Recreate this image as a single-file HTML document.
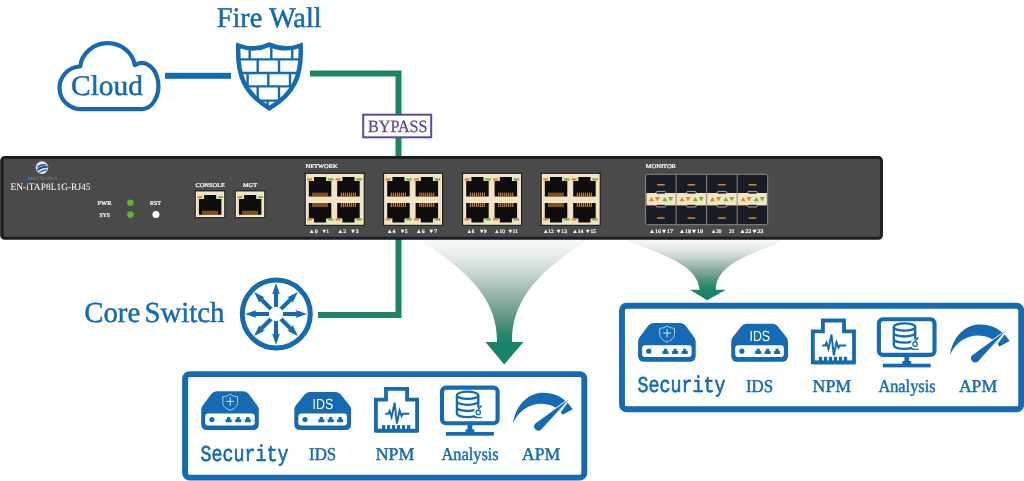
<!DOCTYPE html>
<html lang="en"><head><meta charset="utf-8"><title>Network TAP topology</title>
<style>
html,body{margin:0;padding:0;background:#fff;}
body{width:1024px;height:481px;overflow:hidden;font-family:"Liberation Serif",serif;}
svg{display:block;will-change:transform;text-rendering:geometricPrecision;}
</style></head><body>
<svg width="1024" height="481" viewBox="0 0 1024 481">
<rect x="165" y="72.8" width="66" height="6" fill="#146bb4"/>
<path d="M310 73.5 H398.5 V157" fill="none" stroke="#1a8468" stroke-width="6"/>
<path d="M398.5 238 V315 H318" fill="none" stroke="#1a8468" stroke-width="6"/>
<defs>
<linearGradient id="g1" x1="0" y1="240" x2="0" y2="364" gradientUnits="userSpaceOnUse"><stop offset="0" stop-color="#f8faf9"/><stop offset="0.06" stop-color="#f0f4f2"/><stop offset="0.17" stop-color="#dde6e2"/><stop offset="0.29" stop-color="#c3d3cc"/><stop offset="0.41" stop-color="#9fbbaf"/><stop offset="0.54" stop-color="#7aa493"/><stop offset="0.66" stop-color="#4f937d"/><stop offset="0.76" stop-color="#2a886c"/><stop offset="0.83" stop-color="#1a8468"/><stop offset="1" stop-color="#1a8468"/></linearGradient>
<linearGradient id="g2" x1="0" y1="240" x2="0" y2="300.6" gradientUnits="userSpaceOnUse"><stop offset="0" stop-color="#f8faf9"/><stop offset="0.06" stop-color="#f0f4f2"/><stop offset="0.17" stop-color="#dde6e2"/><stop offset="0.29" stop-color="#c3d3cc"/><stop offset="0.41" stop-color="#9fbbaf"/><stop offset="0.54" stop-color="#7aa493"/><stop offset="0.66" stop-color="#4f937d"/><stop offset="0.76" stop-color="#2a886c"/><stop offset="0.83" stop-color="#1a8468"/><stop offset="1" stop-color="#1a8468"/></linearGradient>
</defs>
<path d="M419 239.5 H588 C541.5 270 511.5 298 512 342 H523.5 L504.2 364.5 L485.5 342 H497 C497.8 298 466 270 419 239.5 Z" fill="url(#g1)"/>
<path d="M623.5 239.5 H787 C751 254 716 264 715.8 289.8 H725.8 L707.2 300.3 L690 289.8 H699.7 C697 263 659 254 623.5 239.5 Z" fill="url(#g2)"/>
<rect x="1.6" y="157.55" width="879.9" height="80.7" rx="3" fill="#4a4a4a" stroke="#1d1e22" stroke-width="2.9"/>
<rect x="1.5" y="159" width="2.2" height="77.8" fill="#1d1e22"/>
<circle cx="42" cy="167.6" r="6.3" fill="#dfe8f3"/>
<g transform="rotate(-18 42 167.6)" fill="none" stroke="#1f4c9e" stroke-linecap="round">
<path d="M38.3 165.6 Q42 164.2 45.8 165.8" stroke-width="1.5"/>
<path d="M37.2 168.3 Q42 166.6 47 168.4" stroke-width="2"/>
<path d="M38.4 171.4 Q42 170 45.8 171.3" stroke-width="1.4" stroke="#2a6d8f"/>
</g>
<text x="27.9" y="179.7" font-size="4.6" font-family='"Liberation Sans", sans-serif' textLength="29.4" lengthAdjust="spacingAndGlyphs"><tspan fill="#3f86c9" font-weight="bold">EN</tspan><tspan fill="#737a83">NETWORKS</tspan></text>
<text x="10.5" y="189.8" font-size="9.8" fill="#fff" font-family='"Liberation Serif", serif' text-anchor="start" textLength="80" lengthAdjust="spacingAndGlyphs">EN-iTAP8L1G-RJ45</text>
<text x="97.5" y="205" font-size="5.6" fill="#fff" font-family='"Liberation Serif", serif' text-anchor="start" textLength="14" lengthAdjust="spacingAndGlyphs" stroke="#fff" stroke-width="0.22" stroke-linejoin="round">PWR</text>
<text x="99.5" y="217" font-size="5.6" fill="#fff" font-family='"Liberation Serif", serif' text-anchor="start" textLength="10.5" lengthAdjust="spacingAndGlyphs" stroke="#fff" stroke-width="0.22" stroke-linejoin="round">SYS</text>
<text x="150" y="205" font-size="5.6" fill="#fff" font-family='"Liberation Serif", serif' text-anchor="start" textLength="11" lengthAdjust="spacingAndGlyphs" stroke="#fff" stroke-width="0.22" stroke-linejoin="round">RST</text>
<circle cx="130.4" cy="202.7" r="3.3" fill="#63b32e"/>
<circle cx="130.4" cy="214.6" r="3.3" fill="#63b32e"/>
<circle cx="155.9" cy="214.6" r="3.5" fill="#fff"/>
<text x="195.4" y="187.3" font-size="5.6" fill="#fff" font-family='"Liberation Serif", serif' text-anchor="start" textLength="29.6" lengthAdjust="spacingAndGlyphs" stroke="#fff" stroke-width="0.22" stroke-linejoin="round">CONSOLE</text>
<text x="243" y="187.3" font-size="5.6" fill="#fff" font-family='"Liberation Serif", serif' text-anchor="start" textLength="14" lengthAdjust="spacingAndGlyphs" stroke="#fff" stroke-width="0.22" stroke-linejoin="round">MGT</text>
<rect x="195.2" y="190.9" width="29.6" height="26.8" fill="#f3e4c8" stroke="#111" stroke-width="1"/>
<path d="M198.9 199.1 H204.1 V195.1 H216.2 V199.1 H221.4 V214.7 H198.9 Z" fill="#0d0d0d"/>
<rect x="202.50" y="210.7" width="1.1" height="4" fill="#d8882a"/>
<rect x="204.50" y="210.7" width="1.1" height="4" fill="#d8882a"/>
<rect x="206.50" y="210.7" width="1.1" height="4" fill="#d8882a"/>
<rect x="208.50" y="210.7" width="1.1" height="4" fill="#d8882a"/>
<rect x="210.50" y="210.7" width="1.1" height="4" fill="#d8882a"/>
<rect x="212.50" y="210.7" width="1.1" height="4" fill="#d8882a"/>
<rect x="214.50" y="210.7" width="1.1" height="4" fill="#d8882a"/>
<rect x="216.50" y="210.7" width="1.1" height="4" fill="#d8882a"/>
<rect x="197.4" y="196.2" width="4.8" height="2" fill="#e08a1e"/>
<rect x="218.0" y="196.2" width="4.8" height="2" fill="#6cb33f"/>
<rect x="235.2" y="190.9" width="29.6" height="26.8" fill="#f3e4c8" stroke="#111" stroke-width="1"/>
<path d="M238.9 199.1 H244.1 V195.1 H256.2 V199.1 H261.4 V214.7 H238.9 Z" fill="#0d0d0d"/>
<rect x="242.50" y="210.7" width="1.1" height="4" fill="#d8882a"/>
<rect x="244.50" y="210.7" width="1.1" height="4" fill="#d8882a"/>
<rect x="246.50" y="210.7" width="1.1" height="4" fill="#d8882a"/>
<rect x="248.50" y="210.7" width="1.1" height="4" fill="#d8882a"/>
<rect x="250.50" y="210.7" width="1.1" height="4" fill="#d8882a"/>
<rect x="252.50" y="210.7" width="1.1" height="4" fill="#d8882a"/>
<rect x="254.50" y="210.7" width="1.1" height="4" fill="#d8882a"/>
<rect x="256.50" y="210.7" width="1.1" height="4" fill="#d8882a"/>
<rect x="237.4" y="196.2" width="4.8" height="2" fill="#e08a1e"/>
<rect x="258.0" y="196.2" width="4.8" height="2" fill="#6cb33f"/>
<text x="305.6" y="167.6" font-size="5.6" fill="#fff" font-family='"Liberation Serif", serif' text-anchor="start" textLength="32" lengthAdjust="spacingAndGlyphs" stroke="#fff" stroke-width="0.22" stroke-linejoin="round">NETWORK</text>
<rect x="305.2" y="173.3" width="59" height="52" fill="#f3e4c8" stroke="#111" stroke-width="1"/>
<path d="M308.8 181.0 H314.0 V177.0 H326.1 V181.0 H331.3 V196.6 H308.8 Z" fill="#0d0d0d"/>
<rect x="312.40" y="192.6" width="1.1" height="4" fill="#d8882a"/>
<rect x="314.40" y="192.6" width="1.1" height="4" fill="#d8882a"/>
<rect x="316.40" y="192.6" width="1.1" height="4" fill="#d8882a"/>
<rect x="318.40" y="192.6" width="1.1" height="4" fill="#d8882a"/>
<rect x="320.40" y="192.6" width="1.1" height="4" fill="#d8882a"/>
<rect x="322.40" y="192.6" width="1.1" height="4" fill="#d8882a"/>
<rect x="324.40" y="192.6" width="1.1" height="4" fill="#d8882a"/>
<rect x="326.40" y="192.6" width="1.1" height="4" fill="#d8882a"/>
<path d="M308.8 203.0 H331.3 V218.6 H326.1 V222.6 H314.0 V218.6 H308.8 Z" fill="#0d0d0d"/>
<rect x="312.40" y="203.0" width="1.1" height="4" fill="#d8882a"/>
<rect x="314.40" y="203.0" width="1.1" height="4" fill="#d8882a"/>
<rect x="316.40" y="203.0" width="1.1" height="4" fill="#d8882a"/>
<rect x="318.40" y="203.0" width="1.1" height="4" fill="#d8882a"/>
<rect x="320.40" y="203.0" width="1.1" height="4" fill="#d8882a"/>
<rect x="322.40" y="203.0" width="1.1" height="4" fill="#d8882a"/>
<rect x="324.40" y="203.0" width="1.1" height="4" fill="#d8882a"/>
<rect x="326.40" y="203.0" width="1.1" height="4" fill="#d8882a"/>
<rect x="307.2" y="178.3" width="5" height="2.2" fill="#e08a1e"/>
<rect x="327.8" y="178.3" width="5.6" height="2.2" fill="#6cb33f"/>
<rect x="307.2" y="218.3" width="5" height="2.2" fill="#e08a1e"/>
<rect x="327.8" y="218.3" width="5.6" height="2.2" fill="#6cb33f"/>
<path d="M337.2 181.0 H342.4 V177.0 H354.5 V181.0 H359.7 V196.6 H337.2 Z" fill="#0d0d0d"/>
<rect x="340.80" y="192.6" width="1.1" height="4" fill="#d8882a"/>
<rect x="342.80" y="192.6" width="1.1" height="4" fill="#d8882a"/>
<rect x="344.80" y="192.6" width="1.1" height="4" fill="#d8882a"/>
<rect x="346.80" y="192.6" width="1.1" height="4" fill="#d8882a"/>
<rect x="348.80" y="192.6" width="1.1" height="4" fill="#d8882a"/>
<rect x="350.80" y="192.6" width="1.1" height="4" fill="#d8882a"/>
<rect x="352.80" y="192.6" width="1.1" height="4" fill="#d8882a"/>
<rect x="354.80" y="192.6" width="1.1" height="4" fill="#d8882a"/>
<path d="M337.2 203.0 H359.7 V218.6 H354.5 V222.6 H342.4 V218.6 H337.2 Z" fill="#0d0d0d"/>
<rect x="340.80" y="203.0" width="1.1" height="4" fill="#d8882a"/>
<rect x="342.80" y="203.0" width="1.1" height="4" fill="#d8882a"/>
<rect x="344.80" y="203.0" width="1.1" height="4" fill="#d8882a"/>
<rect x="346.80" y="203.0" width="1.1" height="4" fill="#d8882a"/>
<rect x="348.80" y="203.0" width="1.1" height="4" fill="#d8882a"/>
<rect x="350.80" y="203.0" width="1.1" height="4" fill="#d8882a"/>
<rect x="352.80" y="203.0" width="1.1" height="4" fill="#d8882a"/>
<rect x="354.80" y="203.0" width="1.1" height="4" fill="#d8882a"/>
<rect x="335.6" y="178.3" width="5" height="2.2" fill="#e08a1e"/>
<rect x="356.2" y="178.3" width="5.6" height="2.2" fill="#6cb33f"/>
<rect x="335.6" y="218.3" width="5" height="2.2" fill="#e08a1e"/>
<rect x="356.2" y="218.3" width="5.6" height="2.2" fill="#6cb33f"/>
<rect x="383.6" y="173.3" width="59" height="52" fill="#f3e4c8" stroke="#111" stroke-width="1"/>
<path d="M387.2 181.0 H392.4 V177.0 H404.5 V181.0 H409.7 V196.6 H387.2 Z" fill="#0d0d0d"/>
<rect x="390.80" y="192.6" width="1.1" height="4" fill="#d8882a"/>
<rect x="392.80" y="192.6" width="1.1" height="4" fill="#d8882a"/>
<rect x="394.80" y="192.6" width="1.1" height="4" fill="#d8882a"/>
<rect x="396.80" y="192.6" width="1.1" height="4" fill="#d8882a"/>
<rect x="398.80" y="192.6" width="1.1" height="4" fill="#d8882a"/>
<rect x="400.80" y="192.6" width="1.1" height="4" fill="#d8882a"/>
<rect x="402.80" y="192.6" width="1.1" height="4" fill="#d8882a"/>
<rect x="404.80" y="192.6" width="1.1" height="4" fill="#d8882a"/>
<path d="M387.2 203.0 H409.7 V218.6 H404.5 V222.6 H392.4 V218.6 H387.2 Z" fill="#0d0d0d"/>
<rect x="390.80" y="203.0" width="1.1" height="4" fill="#d8882a"/>
<rect x="392.80" y="203.0" width="1.1" height="4" fill="#d8882a"/>
<rect x="394.80" y="203.0" width="1.1" height="4" fill="#d8882a"/>
<rect x="396.80" y="203.0" width="1.1" height="4" fill="#d8882a"/>
<rect x="398.80" y="203.0" width="1.1" height="4" fill="#d8882a"/>
<rect x="400.80" y="203.0" width="1.1" height="4" fill="#d8882a"/>
<rect x="402.80" y="203.0" width="1.1" height="4" fill="#d8882a"/>
<rect x="404.80" y="203.0" width="1.1" height="4" fill="#d8882a"/>
<rect x="385.6" y="178.3" width="5" height="2.2" fill="#e08a1e"/>
<rect x="406.2" y="178.3" width="5.6" height="2.2" fill="#6cb33f"/>
<rect x="385.6" y="218.3" width="5" height="2.2" fill="#e08a1e"/>
<rect x="406.2" y="218.3" width="5.6" height="2.2" fill="#6cb33f"/>
<path d="M415.6 181.0 H420.8 V177.0 H432.9 V181.0 H438.1 V196.6 H415.6 Z" fill="#0d0d0d"/>
<rect x="419.20" y="192.6" width="1.1" height="4" fill="#d8882a"/>
<rect x="421.20" y="192.6" width="1.1" height="4" fill="#d8882a"/>
<rect x="423.20" y="192.6" width="1.1" height="4" fill="#d8882a"/>
<rect x="425.20" y="192.6" width="1.1" height="4" fill="#d8882a"/>
<rect x="427.20" y="192.6" width="1.1" height="4" fill="#d8882a"/>
<rect x="429.20" y="192.6" width="1.1" height="4" fill="#d8882a"/>
<rect x="431.20" y="192.6" width="1.1" height="4" fill="#d8882a"/>
<rect x="433.20" y="192.6" width="1.1" height="4" fill="#d8882a"/>
<path d="M415.6 203.0 H438.1 V218.6 H432.9 V222.6 H420.8 V218.6 H415.6 Z" fill="#0d0d0d"/>
<rect x="419.20" y="203.0" width="1.1" height="4" fill="#d8882a"/>
<rect x="421.20" y="203.0" width="1.1" height="4" fill="#d8882a"/>
<rect x="423.20" y="203.0" width="1.1" height="4" fill="#d8882a"/>
<rect x="425.20" y="203.0" width="1.1" height="4" fill="#d8882a"/>
<rect x="427.20" y="203.0" width="1.1" height="4" fill="#d8882a"/>
<rect x="429.20" y="203.0" width="1.1" height="4" fill="#d8882a"/>
<rect x="431.20" y="203.0" width="1.1" height="4" fill="#d8882a"/>
<rect x="433.20" y="203.0" width="1.1" height="4" fill="#d8882a"/>
<rect x="414.0" y="178.3" width="5" height="2.2" fill="#e08a1e"/>
<rect x="434.6" y="178.3" width="5.6" height="2.2" fill="#6cb33f"/>
<rect x="414.0" y="218.3" width="5" height="2.2" fill="#e08a1e"/>
<rect x="434.6" y="218.3" width="5.6" height="2.2" fill="#6cb33f"/>
<rect x="462.6" y="173.3" width="59" height="52" fill="#f3e4c8" stroke="#111" stroke-width="1"/>
<path d="M466.2 181.0 H471.4 V177.0 H483.5 V181.0 H488.7 V196.6 H466.2 Z" fill="#0d0d0d"/>
<rect x="469.80" y="192.6" width="1.1" height="4" fill="#d8882a"/>
<rect x="471.80" y="192.6" width="1.1" height="4" fill="#d8882a"/>
<rect x="473.80" y="192.6" width="1.1" height="4" fill="#d8882a"/>
<rect x="475.80" y="192.6" width="1.1" height="4" fill="#d8882a"/>
<rect x="477.80" y="192.6" width="1.1" height="4" fill="#d8882a"/>
<rect x="479.80" y="192.6" width="1.1" height="4" fill="#d8882a"/>
<rect x="481.80" y="192.6" width="1.1" height="4" fill="#d8882a"/>
<rect x="483.80" y="192.6" width="1.1" height="4" fill="#d8882a"/>
<path d="M466.2 203.0 H488.7 V218.6 H483.5 V222.6 H471.4 V218.6 H466.2 Z" fill="#0d0d0d"/>
<rect x="469.80" y="203.0" width="1.1" height="4" fill="#d8882a"/>
<rect x="471.80" y="203.0" width="1.1" height="4" fill="#d8882a"/>
<rect x="473.80" y="203.0" width="1.1" height="4" fill="#d8882a"/>
<rect x="475.80" y="203.0" width="1.1" height="4" fill="#d8882a"/>
<rect x="477.80" y="203.0" width="1.1" height="4" fill="#d8882a"/>
<rect x="479.80" y="203.0" width="1.1" height="4" fill="#d8882a"/>
<rect x="481.80" y="203.0" width="1.1" height="4" fill="#d8882a"/>
<rect x="483.80" y="203.0" width="1.1" height="4" fill="#d8882a"/>
<rect x="464.6" y="178.3" width="5" height="2.2" fill="#e08a1e"/>
<rect x="485.2" y="178.3" width="5.6" height="2.2" fill="#6cb33f"/>
<rect x="464.6" y="218.3" width="5" height="2.2" fill="#e08a1e"/>
<rect x="485.2" y="218.3" width="5.6" height="2.2" fill="#6cb33f"/>
<path d="M494.6 181.0 H499.8 V177.0 H511.9 V181.0 H517.1 V196.6 H494.6 Z" fill="#0d0d0d"/>
<rect x="498.20" y="192.6" width="1.1" height="4" fill="#d8882a"/>
<rect x="500.20" y="192.6" width="1.1" height="4" fill="#d8882a"/>
<rect x="502.20" y="192.6" width="1.1" height="4" fill="#d8882a"/>
<rect x="504.20" y="192.6" width="1.1" height="4" fill="#d8882a"/>
<rect x="506.20" y="192.6" width="1.1" height="4" fill="#d8882a"/>
<rect x="508.20" y="192.6" width="1.1" height="4" fill="#d8882a"/>
<rect x="510.20" y="192.6" width="1.1" height="4" fill="#d8882a"/>
<rect x="512.20" y="192.6" width="1.1" height="4" fill="#d8882a"/>
<path d="M494.6 203.0 H517.1 V218.6 H511.9 V222.6 H499.8 V218.6 H494.6 Z" fill="#0d0d0d"/>
<rect x="498.20" y="203.0" width="1.1" height="4" fill="#d8882a"/>
<rect x="500.20" y="203.0" width="1.1" height="4" fill="#d8882a"/>
<rect x="502.20" y="203.0" width="1.1" height="4" fill="#d8882a"/>
<rect x="504.20" y="203.0" width="1.1" height="4" fill="#d8882a"/>
<rect x="506.20" y="203.0" width="1.1" height="4" fill="#d8882a"/>
<rect x="508.20" y="203.0" width="1.1" height="4" fill="#d8882a"/>
<rect x="510.20" y="203.0" width="1.1" height="4" fill="#d8882a"/>
<rect x="512.20" y="203.0" width="1.1" height="4" fill="#d8882a"/>
<rect x="493.0" y="178.3" width="5" height="2.2" fill="#e08a1e"/>
<rect x="513.6" y="178.3" width="5.6" height="2.2" fill="#6cb33f"/>
<rect x="493.0" y="218.3" width="5" height="2.2" fill="#e08a1e"/>
<rect x="513.6" y="218.3" width="5.6" height="2.2" fill="#6cb33f"/>
<rect x="541.2" y="173.3" width="59" height="52" fill="#f3e4c8" stroke="#111" stroke-width="1"/>
<path d="M544.8 181.0 H550 V177.0 H562.1 V181.0 H567.3 V196.6 H544.8 Z" fill="#0d0d0d"/>
<rect x="548.40" y="192.6" width="1.1" height="4" fill="#d8882a"/>
<rect x="550.40" y="192.6" width="1.1" height="4" fill="#d8882a"/>
<rect x="552.40" y="192.6" width="1.1" height="4" fill="#d8882a"/>
<rect x="554.40" y="192.6" width="1.1" height="4" fill="#d8882a"/>
<rect x="556.40" y="192.6" width="1.1" height="4" fill="#d8882a"/>
<rect x="558.40" y="192.6" width="1.1" height="4" fill="#d8882a"/>
<rect x="560.40" y="192.6" width="1.1" height="4" fill="#d8882a"/>
<rect x="562.40" y="192.6" width="1.1" height="4" fill="#d8882a"/>
<path d="M544.8 203.0 H567.3 V218.6 H562.1 V222.6 H550 V218.6 H544.8 Z" fill="#0d0d0d"/>
<rect x="548.40" y="203.0" width="1.1" height="4" fill="#d8882a"/>
<rect x="550.40" y="203.0" width="1.1" height="4" fill="#d8882a"/>
<rect x="552.40" y="203.0" width="1.1" height="4" fill="#d8882a"/>
<rect x="554.40" y="203.0" width="1.1" height="4" fill="#d8882a"/>
<rect x="556.40" y="203.0" width="1.1" height="4" fill="#d8882a"/>
<rect x="558.40" y="203.0" width="1.1" height="4" fill="#d8882a"/>
<rect x="560.40" y="203.0" width="1.1" height="4" fill="#d8882a"/>
<rect x="562.40" y="203.0" width="1.1" height="4" fill="#d8882a"/>
<rect x="543.2" y="178.3" width="5" height="2.2" fill="#e08a1e"/>
<rect x="563.8" y="178.3" width="5.6" height="2.2" fill="#6cb33f"/>
<rect x="543.2" y="218.3" width="5" height="2.2" fill="#e08a1e"/>
<rect x="563.8" y="218.3" width="5.6" height="2.2" fill="#6cb33f"/>
<path d="M573.2 181.0 H578.4 V177.0 H590.5 V181.0 H595.7 V196.6 H573.2 Z" fill="#0d0d0d"/>
<rect x="576.80" y="192.6" width="1.1" height="4" fill="#d8882a"/>
<rect x="578.80" y="192.6" width="1.1" height="4" fill="#d8882a"/>
<rect x="580.80" y="192.6" width="1.1" height="4" fill="#d8882a"/>
<rect x="582.80" y="192.6" width="1.1" height="4" fill="#d8882a"/>
<rect x="584.80" y="192.6" width="1.1" height="4" fill="#d8882a"/>
<rect x="586.80" y="192.6" width="1.1" height="4" fill="#d8882a"/>
<rect x="588.80" y="192.6" width="1.1" height="4" fill="#d8882a"/>
<rect x="590.80" y="192.6" width="1.1" height="4" fill="#d8882a"/>
<path d="M573.2 203.0 H595.7 V218.6 H590.5 V222.6 H578.4 V218.6 H573.2 Z" fill="#0d0d0d"/>
<rect x="576.80" y="203.0" width="1.1" height="4" fill="#d8882a"/>
<rect x="578.80" y="203.0" width="1.1" height="4" fill="#d8882a"/>
<rect x="580.80" y="203.0" width="1.1" height="4" fill="#d8882a"/>
<rect x="582.80" y="203.0" width="1.1" height="4" fill="#d8882a"/>
<rect x="584.80" y="203.0" width="1.1" height="4" fill="#d8882a"/>
<rect x="586.80" y="203.0" width="1.1" height="4" fill="#d8882a"/>
<rect x="588.80" y="203.0" width="1.1" height="4" fill="#d8882a"/>
<rect x="590.80" y="203.0" width="1.1" height="4" fill="#d8882a"/>
<rect x="571.6" y="178.3" width="5" height="2.2" fill="#e08a1e"/>
<rect x="592.2" y="178.3" width="5.6" height="2.2" fill="#6cb33f"/>
<rect x="571.6" y="218.3" width="5" height="2.2" fill="#e08a1e"/>
<rect x="592.2" y="218.3" width="5.6" height="2.2" fill="#6cb33f"/>
<text x="308.8" y="232.6" font-size="5.3" fill="#fff" font-family='"Liberation Serif", serif' text-anchor="start" textLength="8.8" lengthAdjust="spacingAndGlyphs" stroke="#fff" stroke-width="0.22" stroke-linejoin="round">▲0</text>
<text x="321.7" y="232.6" font-size="5.3" fill="#fff" font-family='"Liberation Serif", serif' text-anchor="start" textLength="7.4" lengthAdjust="spacingAndGlyphs" stroke="#fff" stroke-width="0.22" stroke-linejoin="round">▼1</text>
<text x="337.4" y="232.6" font-size="5.3" fill="#fff" font-family='"Liberation Serif", serif' text-anchor="start" textLength="8.7" lengthAdjust="spacingAndGlyphs" stroke="#fff" stroke-width="0.22" stroke-linejoin="round">▲2</text>
<text x="350.2" y="232.6" font-size="5.3" fill="#fff" font-family='"Liberation Serif", serif' text-anchor="start" textLength="8.4" lengthAdjust="spacingAndGlyphs" stroke="#fff" stroke-width="0.22" stroke-linejoin="round">▼3</text>
<text x="386.7" y="232.6" font-size="5.3" fill="#fff" font-family='"Liberation Serif", serif' text-anchor="start" textLength="8.8" lengthAdjust="spacingAndGlyphs" stroke="#fff" stroke-width="0.22" stroke-linejoin="round">▲4</text>
<text x="400" y="232.6" font-size="5.3" fill="#fff" font-family='"Liberation Serif", serif' text-anchor="start" textLength="7.7" lengthAdjust="spacingAndGlyphs" stroke="#fff" stroke-width="0.22" stroke-linejoin="round">▼5</text>
<text x="416" y="232.6" font-size="5.3" fill="#fff" font-family='"Liberation Serif", serif' text-anchor="start" textLength="8.5" lengthAdjust="spacingAndGlyphs" stroke="#fff" stroke-width="0.22" stroke-linejoin="round">▲6</text>
<text x="428.6" y="232.6" font-size="5.3" fill="#fff" font-family='"Liberation Serif", serif' text-anchor="start" textLength="8.4" lengthAdjust="spacingAndGlyphs" stroke="#fff" stroke-width="0.22" stroke-linejoin="round">▼7</text>
<text x="466.7" y="232.6" font-size="5.3" fill="#fff" font-family='"Liberation Serif", serif' text-anchor="start" textLength="7.6" lengthAdjust="spacingAndGlyphs" stroke="#fff" stroke-width="0.22" stroke-linejoin="round">▲8</text>
<text x="479.2" y="232.6" font-size="5.3" fill="#fff" font-family='"Liberation Serif", serif' text-anchor="start" textLength="7.4" lengthAdjust="spacingAndGlyphs" stroke="#fff" stroke-width="0.22" stroke-linejoin="round">▼9</text>
<text x="494.3" y="232.6" font-size="5.3" fill="#fff" font-family='"Liberation Serif", serif' text-anchor="start" textLength="10.5" lengthAdjust="spacingAndGlyphs" stroke="#fff" stroke-width="0.22" stroke-linejoin="round">▲10</text>
<text x="507.7" y="232.6" font-size="5.3" fill="#fff" font-family='"Liberation Serif", serif' text-anchor="start" textLength="10" lengthAdjust="spacingAndGlyphs" stroke="#fff" stroke-width="0.22" stroke-linejoin="round">▼11</text>
<text x="542.9" y="232.6" font-size="5.3" fill="#fff" font-family='"Liberation Serif", serif' text-anchor="start" textLength="11" lengthAdjust="spacingAndGlyphs" stroke="#fff" stroke-width="0.22" stroke-linejoin="round">▲12</text>
<text x="555.8" y="232.6" font-size="5.3" fill="#fff" font-family='"Liberation Serif", serif' text-anchor="start" textLength="11.2" lengthAdjust="spacingAndGlyphs" stroke="#fff" stroke-width="0.22" stroke-linejoin="round">▼13</text>
<text x="572.2" y="232.6" font-size="5.3" fill="#fff" font-family='"Liberation Serif", serif' text-anchor="start" textLength="11" lengthAdjust="spacingAndGlyphs" stroke="#fff" stroke-width="0.22" stroke-linejoin="round">▲14</text>
<text x="585" y="232.6" font-size="5.3" fill="#fff" font-family='"Liberation Serif", serif' text-anchor="start" textLength="10.9" lengthAdjust="spacingAndGlyphs" stroke="#fff" stroke-width="0.22" stroke-linejoin="round">▼15</text>
<text x="645.7" y="167.6" font-size="5.6" fill="#fff" font-family='"Liberation Serif", serif' text-anchor="start" textLength="30.3" lengthAdjust="spacingAndGlyphs" stroke="#fff" stroke-width="0.22" stroke-linejoin="round">MONITOR</text>
<rect x="645.6" y="174.3" width="122.1" height="50.4" rx="2" fill="#191c25" stroke="#8a8a8a" stroke-width="1"/>
<rect x="646.4" y="193" width="120.5" height="12.4" fill="#f3e4c8"/>
<rect x="657.06" y="184" width="7.6" height="1.5" fill="#d8882a"/>
<rect x="657.06" y="217.3" width="7.6" height="1.5" fill="#d8882a"/>
<rect x="656.06" y="191.4" width="9.6" height="2.6" rx="1.3" fill="#191c25" stroke="#f3e4c8" stroke-width="0.7"/>
<rect x="656.06" y="204.4" width="9.6" height="2.6" rx="1.3" fill="#191c25" stroke="#f3e4c8" stroke-width="0.7"/>
<path d="M648.96 201.3 L651.56 196.9 L654.16 201.3 Z" fill="#e08a1e"/>
<path d="M654.86 197.1 L657.46 201.5 L660.06 197.1 Z" fill="#e08a1e"/>
<path d="M662.16 201.3 L664.76 196.9 L667.36 201.3 Z" fill="#6cb33f"/>
<path d="M668.06 197.1 L670.66 201.5 L673.26 197.1 Z" fill="#6cb33f"/>
<rect x="675.62" y="174.3" width="1" height="50.4" fill="#8a8a8a"/>
<rect x="687.59" y="184" width="7.6" height="1.5" fill="#d8882a"/>
<rect x="687.59" y="217.3" width="7.6" height="1.5" fill="#d8882a"/>
<rect x="686.59" y="191.4" width="9.6" height="2.6" rx="1.3" fill="#191c25" stroke="#f3e4c8" stroke-width="0.7"/>
<rect x="686.59" y="204.4" width="9.6" height="2.6" rx="1.3" fill="#191c25" stroke="#f3e4c8" stroke-width="0.7"/>
<path d="M679.49 201.3 L682.09 196.9 L684.69 201.3 Z" fill="#e08a1e"/>
<path d="M685.39 197.1 L687.99 201.5 L690.59 197.1 Z" fill="#e08a1e"/>
<path d="M692.69 201.3 L695.29 196.9 L697.89 201.3 Z" fill="#6cb33f"/>
<path d="M698.59 197.1 L701.19 201.5 L703.79 197.1 Z" fill="#6cb33f"/>
<rect x="706.15" y="174.3" width="1" height="50.4" fill="#8a8a8a"/>
<rect x="718.11" y="184" width="7.6" height="1.5" fill="#d8882a"/>
<rect x="718.11" y="217.3" width="7.6" height="1.5" fill="#d8882a"/>
<rect x="717.11" y="191.4" width="9.6" height="2.6" rx="1.3" fill="#191c25" stroke="#f3e4c8" stroke-width="0.7"/>
<rect x="717.11" y="204.4" width="9.6" height="2.6" rx="1.3" fill="#191c25" stroke="#f3e4c8" stroke-width="0.7"/>
<path d="M710.01 201.3 L712.61 196.9 L715.21 201.3 Z" fill="#e08a1e"/>
<path d="M715.91 197.1 L718.51 201.5 L721.11 197.1 Z" fill="#e08a1e"/>
<path d="M723.21 201.3 L725.81 196.9 L728.41 201.3 Z" fill="#6cb33f"/>
<path d="M729.11 197.1 L731.71 201.5 L734.31 197.1 Z" fill="#6cb33f"/>
<rect x="736.67" y="174.3" width="1" height="50.4" fill="#8a8a8a"/>
<rect x="748.64" y="184" width="7.6" height="1.5" fill="#d8882a"/>
<rect x="748.64" y="217.3" width="7.6" height="1.5" fill="#d8882a"/>
<rect x="747.64" y="191.4" width="9.6" height="2.6" rx="1.3" fill="#191c25" stroke="#f3e4c8" stroke-width="0.7"/>
<rect x="747.64" y="204.4" width="9.6" height="2.6" rx="1.3" fill="#191c25" stroke="#f3e4c8" stroke-width="0.7"/>
<path d="M740.54 201.3 L743.14 196.9 L745.74 201.3 Z" fill="#e08a1e"/>
<path d="M746.44 197.1 L749.04 201.5 L751.64 197.1 Z" fill="#e08a1e"/>
<path d="M753.74 201.3 L756.34 196.9 L758.94 201.3 Z" fill="#6cb33f"/>
<path d="M759.64 197.1 L762.24 201.5 L764.84 197.1 Z" fill="#6cb33f"/>
<text x="649" y="233.2" font-size="5.4" fill="#fff" font-family='"Liberation Serif", serif' text-anchor="start" textLength="24" lengthAdjust="spacingAndGlyphs" stroke="#fff" stroke-width="0.22" stroke-linejoin="round">▲16▼17</text>
<text x="679" y="233.2" font-size="5.4" fill="#fff" font-family='"Liberation Serif", serif' text-anchor="start" textLength="24" lengthAdjust="spacingAndGlyphs" stroke="#fff" stroke-width="0.22" stroke-linejoin="round">▲18▼19</text>
<text x="711" y="233.2" font-size="5.4" fill="#fff" font-family='"Liberation Serif", serif' text-anchor="start" textLength="10.5" lengthAdjust="spacingAndGlyphs" stroke="#fff" stroke-width="0.22" stroke-linejoin="round">▲20</text>
<text x="729" y="233.2" font-size="5.4" fill="#fff" font-family='"Liberation Serif", serif' text-anchor="start" textLength="5.5" lengthAdjust="spacingAndGlyphs" stroke="#fff" stroke-width="0.22" stroke-linejoin="round">21</text>
<text x="739.4" y="233.2" font-size="5.4" fill="#fff" font-family='"Liberation Serif", serif' text-anchor="start" textLength="24" lengthAdjust="spacingAndGlyphs" stroke="#fff" stroke-width="0.22" stroke-linejoin="round">▲22▼23</text>
<path d="M80.9 109.1 H141.7 A16.7 23 0 1 0 134.83 65.14 A27.6 26.2 0 0 0 80.17 66.51 A21.3 21.3 0 0 0 80.9 109.1 Z" fill="#fff" stroke="#146bb4" stroke-width="4.2" stroke-linejoin="round"/>
<text x="71" y="94.6" font-size="28.5" fill="#146bb4" font-family='"Liberation Serif", serif' text-anchor="start" textLength="72" lengthAdjust="spacingAndGlyphs" stroke="#146bb4" stroke-width="0.5" stroke-linejoin="round">Cloud</text>
<text x="216.7" y="27" font-size="28.5" fill="#146bb4" font-family='"Liberation Serif", serif' text-anchor="start" textLength="105" lengthAdjust="spacingAndGlyphs" stroke="#146bb4" stroke-width="0.5" stroke-linejoin="round">Fire Wall</text>
<g fill="none" stroke="#146bb4">
<clipPath id="shc"><path d="M238.3 45.5 C250 50 260 49 269.4 44.6 C279 49 289 50 300.6 45.5 C302 75 295 93 269.4 108.3 C244 93 237 75 238.3 45.5 Z"/></clipPath>
<g clip-path="url(#shc)" stroke-width="2.4">
<path d="M236 59.4 H303"/>
<path d="M236 73 H303"/>
<path d="M236 86.4 H303"/>
<path d="M236 100.6 H303"/>
<path d="M249.7 44 V59.4"/>
<path d="M271.3 44 V59.4"/>
<path d="M292.2 44 V59.4"/>
<path d="M257.7 59.4 V73"/>
<path d="M279 59.4 V73"/>
<path d="M247.6 73 V86.4"/>
<path d="M268.3 73 V86.4"/>
<path d="M290 73 V86.4"/>
<path d="M257.7 86.4 V100.6"/>
<path d="M279 86.4 V100.6"/>
<path d="M267.6 100.6 V110"/>
</g>
<path d="M238.3 45.5 C250 50 260 49 269.4 44.6 C279 49 289 50 300.6 45.5 C302 75 295 93 269.4 108.3 C244 93 237 75 238.3 45.5 Z" stroke-width="4.5" stroke-linejoin="miter"/>
</g>
<rect x="363.2" y="114.7" width="68" height="22.6" fill="#fff" stroke="#5b4a9b" stroke-width="2"/>
<text x="368" y="132" font-size="17.3" fill="#5b4a9b" font-family='"Liberation Serif", serif' text-anchor="start" textLength="59.5" lengthAdjust="spacingAndGlyphs" stroke="#5b4a9b" stroke-width="0.3" stroke-linejoin="round">BYPASS</text>
<text x="84.3" y="322.3" font-size="29" fill="#146bb4" font-family='"Liberation Serif", serif' text-anchor="start" textLength="140" lengthAdjust="spacingAndGlyphs" word-spacing="-3" stroke="#146bb4" stroke-width="0.5" stroke-linejoin="round">Core Switch</text>
<circle cx="276.3" cy="314" r="34" fill="#fff" stroke="#146bb4" stroke-width="5"/>
<g fill="#146bb4">
<path transform="rotate(0 276 314)" d="M273.95 308 L273.95 293.4 L272.1 294.4 L276 283 L279.9 294.4 L278.05 293.4 L278.05 308 Z"/>
<path transform="rotate(45 276 314)" d="M273.95 308 L273.95 293.4 L272.1 294.4 L276 283 L279.9 294.4 L278.05 293.4 L278.05 308 Z"/>
<path transform="rotate(90 276 314)" d="M273.95 308 L273.95 293.4 L272.1 294.4 L276 283 L279.9 294.4 L278.05 293.4 L278.05 308 Z"/>
<path transform="rotate(135 276 314)" d="M273.95 308 L273.95 293.4 L272.1 294.4 L276 283 L279.9 294.4 L278.05 293.4 L278.05 308 Z"/>
<path transform="rotate(180 276 314)" d="M273.95 308 L273.95 293.4 L272.1 294.4 L276 283 L279.9 294.4 L278.05 293.4 L278.05 308 Z"/>
<path transform="rotate(225 276 314)" d="M273.95 308 L273.95 293.4 L272.1 294.4 L276 283 L279.9 294.4 L278.05 293.4 L278.05 308 Z"/>
<path transform="rotate(270 276 314)" d="M273.95 308 L273.95 293.4 L272.1 294.4 L276 283 L279.9 294.4 L278.05 293.4 L278.05 308 Z"/>
<path transform="rotate(315 276 314)" d="M273.95 308 L273.95 293.4 L272.1 294.4 L276 283 L279.9 294.4 L278.05 293.4 L278.05 308 Z"/>
</g>
<circle cx="276" cy="314" r="7.2" fill="#fff"/>
<rect x="185.1" y="374.1" width="399.2" height="103.5" rx="4.6" fill="#fff" stroke="#146bb4" stroke-width="5.9"/>
<path d="M217 391.3 H243.5 Q246.5 391.3 248.5 393.8 L257.3 405.5 Q258.8 407.5 258.8 410 V424 Q258.8 430 252.8 430 H207.2 Q201.2 430 201.2 424 V410 Q201.2 407.5 202.7 405.5 L211.5 393.8 Q213.5 391.3 216.5 391.3 Z" fill="#146bb4"/>
<rect x="205.2" y="413.6" width="49.5" height="11.8" rx="3" fill="#fff"/>
<circle cx="211.9" cy="419.5" r="2.6" fill="#146bb4"/>
<path d="M225.6 422.3 V419.3 H227.0 V417 H230.2 V419.3 H231.6 V422.3 Z" fill="#146bb4"/>
<path d="M235.2 422.3 V419.3 H236.6 V417 H239.8 V419.3 H241.2 V422.3 Z" fill="#146bb4"/>
<path d="M244.8 422.3 V419.3 H246.2 V417 H249.4 V419.3 H250.8 V422.3 Z" fill="#146bb4"/>
<path d="M230.2 394.3 C233.2 396.3 235.7 396.6 237.6 396.6 V402.5 C237.6 406.5 233.7 409 230.2 410.3 C226.7 409 222.8 406.5 222.8 402.5 V396.6 C224.7 396.6 227.2 396.3 230.2 394.3 Z" fill="none" stroke="#d4e3f2" stroke-width="0.8"/>
<path d="M230.2 397.2 V405.8 M226.3 401.4 H234.1" stroke="#e6eff8" stroke-width="0.9" fill="none"/>
<text x="200.6" y="460.5" font-size="22.6" fill="#146bb4" font-family='"Liberation Mono", monospace' text-anchor="start" textLength="88" lengthAdjust="spacingAndGlyphs" stroke="#146bb4" stroke-width="0.65" stroke-linejoin="round">Security</text>
<path d="M310.1 392.1 H335.8 Q338.8 392.1 340.8 394.6 L349.6 405.5 Q351.1 407.5 351.1 410 V424 Q351.1 430 345.1 430 H300.3 Q294.3 430 294.3 424 V410 Q294.3 407.5 295.8 405.5 L304.6 394.6 Q306.6 392.1 309.6 392.1 Z" fill="#146bb4"/>
<rect x="298.3" y="413.6" width="48.7" height="11.8" rx="3" fill="#fff"/>
<circle cx="305.0" cy="419.5" r="2.6" fill="#146bb4"/>
<path d="M318.3 422.3 V419.3 H319.7 V417 H322.9 V419.3 H324.3 V422.3 Z" fill="#146bb4"/>
<path d="M327.74 422.3 V419.3 H329.14 V417 H332.34 V419.3 H333.74 V422.3 Z" fill="#146bb4"/>
<path d="M337.18 422.3 V419.3 H338.58 V417 H341.78 V419.3 H343.18 V422.3 Z" fill="#146bb4"/>
<text x="312.6" y="408.9" font-size="14.6" fill="#fff" font-family='"Liberation Sans", sans-serif' text-anchor="start" textLength="20.6" lengthAdjust="spacingAndGlyphs">IDS</text>
<text x="309" y="460.3" font-size="18" fill="#146bb4" font-family='"Liberation Serif", serif' text-anchor="start" textLength="27.3" lengthAdjust="spacingAndGlyphs" stroke="#146bb4" stroke-width="0.45" stroke-linejoin="round">IDS</text>
<path d="M375.9 399.7 H386 V388.8 H407.1 V399.7 H417.1 V430.7 H375.9 Z" fill="#fff" stroke="#146bb4" stroke-width="3.8"/>
<rect x="376" y="429.1" width="41" height="3.5" fill="#146bb4"/>
<rect x="382.00" y="425.1" width="3.2" height="4.5" fill="#146bb4"/>
<rect x="387.00" y="425.1" width="3.2" height="4.5" fill="#146bb4"/>
<rect x="392.00" y="425.1" width="3.2" height="4.5" fill="#146bb4"/>
<rect x="397.00" y="425.1" width="3.2" height="4.5" fill="#146bb4"/>
<rect x="402.00" y="425.1" width="3.2" height="4.5" fill="#146bb4"/>
<rect x="407.00" y="425.1" width="3.2" height="4.5" fill="#146bb4"/>
<path d="M385.2 413.8 H388.3 L389.6 411 L391.6 417 L394.6 402.8 L396.9 423.6 L399.6 410.6 L401.6 416 L403 413.8 H409.4" fill="none" stroke="#146bb4" stroke-width="2" stroke-linejoin="miter"/>
<text x="375.7" y="460.3" font-size="18" fill="#146bb4" font-family='"Liberation Serif", serif' text-anchor="start" textLength="38.6" lengthAdjust="spacingAndGlyphs" stroke="#146bb4" stroke-width="0.45" stroke-linejoin="round">NPM</text>
<rect x="442" y="387.6" width="55.6" height="35.6" rx="4" fill="#fff" stroke="#146bb4" stroke-width="4.1"/>
<rect x="467.5" y="425" width="4.8" height="8" fill="#146bb4"/>
<rect x="465.5" y="429.3" width="8.8" height="3" fill="#146bb4"/>
<rect x="446" y="432" width="47.8" height="3.7" fill="#146bb4"/>
<ellipse cx="467.6" cy="395.3" rx="10.7" ry="3.6" fill="none" stroke="#146bb4" stroke-width="2.3"/>
<path d="M456.9 395.6 V401.2 A10.7 3.6 0 0 0 478.3 401.2 V395.6" fill="none" stroke="#146bb4" stroke-width="2.3"/>
<path d="M456.9 401.8 V407.4 A10.7 3.6 0 0 0 478.3 407.4 V401.8" fill="none" stroke="#146bb4" stroke-width="2.3"/>
<path d="M456.9 408.0 V413.6 A10.7 3.6 0 0 0 478.3 413.6 V408.0" fill="none" stroke="#146bb4" stroke-width="2.3"/>
<circle cx="478.2" cy="412.2" r="4.6" fill="#fff"/>
<circle cx="478.2" cy="412.4" r="2.2" fill="none" stroke="#146bb4" stroke-width="1.3"/>
<path d="M478 409.8 L481.5 405.6" stroke="#146bb4" stroke-width="1.5" fill="none"/>
<path d="M474.6 417.6 H481.9" stroke="#146bb4" stroke-width="1.2" fill="none"/>
<text x="441.5" y="460.3" font-size="18" fill="#146bb4" font-family='"Liberation Serif", serif' text-anchor="start" textLength="57.2" lengthAdjust="spacingAndGlyphs" stroke="#146bb4" stroke-width="0.45" stroke-linejoin="round">Analysis</text>
<path d="M513.1 423.3 C516 403 530 392.6 543 392.7 C555 392.8 566 398 572.7 409.3 L562.6 414.8 C558 407.5 550 403.8 541 403.8 C530 403.8 519 410 513.1 423.3 Z" fill="#146bb4"/>
<path d="M568.6 399.4 L541.3 429.6 A4.3 4.3 0 0 1 535.1 423.7 Z" fill="#146bb4" stroke="#fff" stroke-width="1.6" stroke-linejoin="round"/>
<path d="M569.6 398.4 L556.5 414.5 L560.6 412.6 L566.6 404.2 Z" fill="#fff"/>
<path d="M568.6 399.4 L541.3 429.6 A4.3 4.3 0 0 1 535.1 423.7 Z" fill="#146bb4"/>
<text x="522" y="460.3" font-size="18" fill="#146bb4" font-family='"Liberation Serif", serif' text-anchor="start" textLength="38.2" lengthAdjust="spacingAndGlyphs" stroke="#146bb4" stroke-width="0.45" stroke-linejoin="round">APM</text>
<rect x="622.0" y="305.8" width="399.2" height="103.5" rx="4.6" fill="#fff" stroke="#146bb4" stroke-width="5.9"/>
<path d="M653.9 323.0 H680.4 Q683.4 323.0 685.4 325.5 L694.2 337.2 Q695.7 339.2 695.7 341.7 V355.7 Q695.7 361.7 689.7 361.7 H644.1 Q638.1 361.7 638.1 355.7 V341.7 Q638.1 339.2 639.6 337.2 L648.4 325.5 Q650.4 323.0 653.4 323.0 Z" fill="#146bb4"/>
<rect x="642.1" y="345.3" width="49.5" height="11.8" rx="3" fill="#fff"/>
<circle cx="648.8" cy="351.2" r="2.6" fill="#146bb4"/>
<path d="M662.5 354.0 V351.0 H663.9 V348.7 H667.1 V351.0 H668.5 V354.0 Z" fill="#146bb4"/>
<path d="M672.1 354.0 V351.0 H673.5 V348.7 H676.7 V351.0 H678.1 V354.0 Z" fill="#146bb4"/>
<path d="M681.7 354.0 V351.0 H683.1 V348.7 H686.3 V351.0 H687.7 V354.0 Z" fill="#146bb4"/>
<path d="M667.1 326.0 C670.1 328.0 672.6 328.3 674.5 328.3 V334.2 C674.5 338.2 670.6 340.7 667.1 342.0 C663.6 340.7 659.7 338.2 659.7 334.2 V328.3 C661.6 328.3 664.1 328.0 667.1 326.0 Z" fill="none" stroke="#d4e3f2" stroke-width="0.8"/>
<path d="M667.1 328.9 V337.5 M663.2 333.1 H671" stroke="#e6eff8" stroke-width="0.9" fill="none"/>
<text x="637.5" y="392.2" font-size="22.6" fill="#146bb4" font-family='"Liberation Mono", monospace' text-anchor="start" textLength="88" lengthAdjust="spacingAndGlyphs" stroke="#146bb4" stroke-width="0.65" stroke-linejoin="round">Security</text>
<path d="M747.0 323.8 H772.7 Q775.7 323.8 777.7 326.3 L786.5 337.2 Q788.0 339.2 788.0 341.7 V355.7 Q788.0 361.7 782.0 361.7 H737.2 Q731.2 361.7 731.2 355.7 V341.7 Q731.2 339.2 732.7 337.2 L741.5 326.3 Q743.5 323.8 746.5 323.8 Z" fill="#146bb4"/>
<rect x="735.2" y="345.3" width="48.7" height="11.8" rx="3" fill="#fff"/>
<circle cx="741.9" cy="351.2" r="2.6" fill="#146bb4"/>
<path d="M755.2 354.0 V351.0 H756.6 V348.7 H759.8 V351.0 H761.2 V354.0 Z" fill="#146bb4"/>
<path d="M764.64 354.0 V351.0 H766.04 V348.7 H769.24 V351.0 H770.64 V354.0 Z" fill="#146bb4"/>
<path d="M774.08 354.0 V351.0 H775.48 V348.7 H778.68 V351.0 H780.08 V354.0 Z" fill="#146bb4"/>
<text x="749.5" y="340.6" font-size="14.6" fill="#fff" font-family='"Liberation Sans", sans-serif' text-anchor="start" textLength="20.6" lengthAdjust="spacingAndGlyphs">IDS</text>
<text x="745.9" y="392.0" font-size="18" fill="#146bb4" font-family='"Liberation Serif", serif' text-anchor="start" textLength="27.3" lengthAdjust="spacingAndGlyphs" stroke="#146bb4" stroke-width="0.45" stroke-linejoin="round">IDS</text>
<path d="M812.8 331.4 H822.9 V320.5 H844.0 V331.4 H854.0 V362.4 H812.8 Z" fill="#fff" stroke="#146bb4" stroke-width="3.8"/>
<rect x="812.9" y="360.8" width="41" height="3.5" fill="#146bb4"/>
<rect x="818.90" y="356.8" width="3.2" height="4.5" fill="#146bb4"/>
<rect x="823.90" y="356.8" width="3.2" height="4.5" fill="#146bb4"/>
<rect x="828.90" y="356.8" width="3.2" height="4.5" fill="#146bb4"/>
<rect x="833.90" y="356.8" width="3.2" height="4.5" fill="#146bb4"/>
<rect x="838.90" y="356.8" width="3.2" height="4.5" fill="#146bb4"/>
<rect x="843.90" y="356.8" width="3.2" height="4.5" fill="#146bb4"/>
<path d="M822.1 345.5 H825.2 L826.5 342.7 L828.5 348.7 L831.5 334.5 L833.8 355.3 L836.5 342.3 L838.5 347.7 L839.9 345.5 H846.3" fill="none" stroke="#146bb4" stroke-width="2" stroke-linejoin="miter"/>
<text x="812.6" y="392.0" font-size="18" fill="#146bb4" font-family='"Liberation Serif", serif' text-anchor="start" textLength="38.6" lengthAdjust="spacingAndGlyphs" stroke="#146bb4" stroke-width="0.45" stroke-linejoin="round">NPM</text>
<rect x="878.9" y="319.3" width="55.6" height="35.6" rx="4" fill="#fff" stroke="#146bb4" stroke-width="4.1"/>
<rect x="904.4" y="356.7" width="4.8" height="8" fill="#146bb4"/>
<rect x="902.4" y="361.0" width="8.8" height="3" fill="#146bb4"/>
<rect x="882.9" y="363.7" width="47.8" height="3.7" fill="#146bb4"/>
<ellipse cx="904.5" cy="327.0" rx="10.7" ry="3.6" fill="none" stroke="#146bb4" stroke-width="2.3"/>
<path d="M893.8 327.3 V332.9 A10.7 3.6 0 0 0 915.2 332.9 V327.3" fill="none" stroke="#146bb4" stroke-width="2.3"/>
<path d="M893.8 333.5 V339.1 A10.7 3.6 0 0 0 915.2 339.1 V333.5" fill="none" stroke="#146bb4" stroke-width="2.3"/>
<path d="M893.8 339.7 V345.3 A10.7 3.6 0 0 0 915.2 345.3 V339.7" fill="none" stroke="#146bb4" stroke-width="2.3"/>
<circle cx="915.1" cy="343.9" r="4.6" fill="#fff"/>
<circle cx="915.1" cy="344.1" r="2.2" fill="none" stroke="#146bb4" stroke-width="1.3"/>
<path d="M914.9 341.5 L918.4 337.3" stroke="#146bb4" stroke-width="1.5" fill="none"/>
<path d="M911.5 349.3 H918.8" stroke="#146bb4" stroke-width="1.2" fill="none"/>
<text x="878.4" y="392.0" font-size="18" fill="#146bb4" font-family='"Liberation Serif", serif' text-anchor="start" textLength="57.2" lengthAdjust="spacingAndGlyphs" stroke="#146bb4" stroke-width="0.45" stroke-linejoin="round">Analysis</text>
<path d="M950.0 355.0 C952.9 334.7 966.9 324.3 979.9 324.4 C991.9 324.5 1002.9 329.7 1009.6 341.0 L999.5 346.5 C994.9 339.2 986.9 335.5 977.9 335.5 C966.9 335.5 955.9 341.7 950.0 355.0 Z" fill="#146bb4"/>
<path d="M1005.5 331.1 L978.2 361.3 A4.3 4.3 0 0 1 972.0 355.4 Z" fill="#146bb4" stroke="#fff" stroke-width="1.6" stroke-linejoin="round"/>
<path d="M1006.5 330.1 L993.4 346.2 L997.5 344.3 L1003.5 335.9 Z" fill="#fff"/>
<path d="M1005.5 331.1 L978.2 361.3 A4.3 4.3 0 0 1 972.0 355.4 Z" fill="#146bb4"/>
<text x="958.9" y="392.0" font-size="18" fill="#146bb4" font-family='"Liberation Serif", serif' text-anchor="start" textLength="38.2" lengthAdjust="spacingAndGlyphs" stroke="#146bb4" stroke-width="0.45" stroke-linejoin="round">APM</text>
</svg>
</body></html>
